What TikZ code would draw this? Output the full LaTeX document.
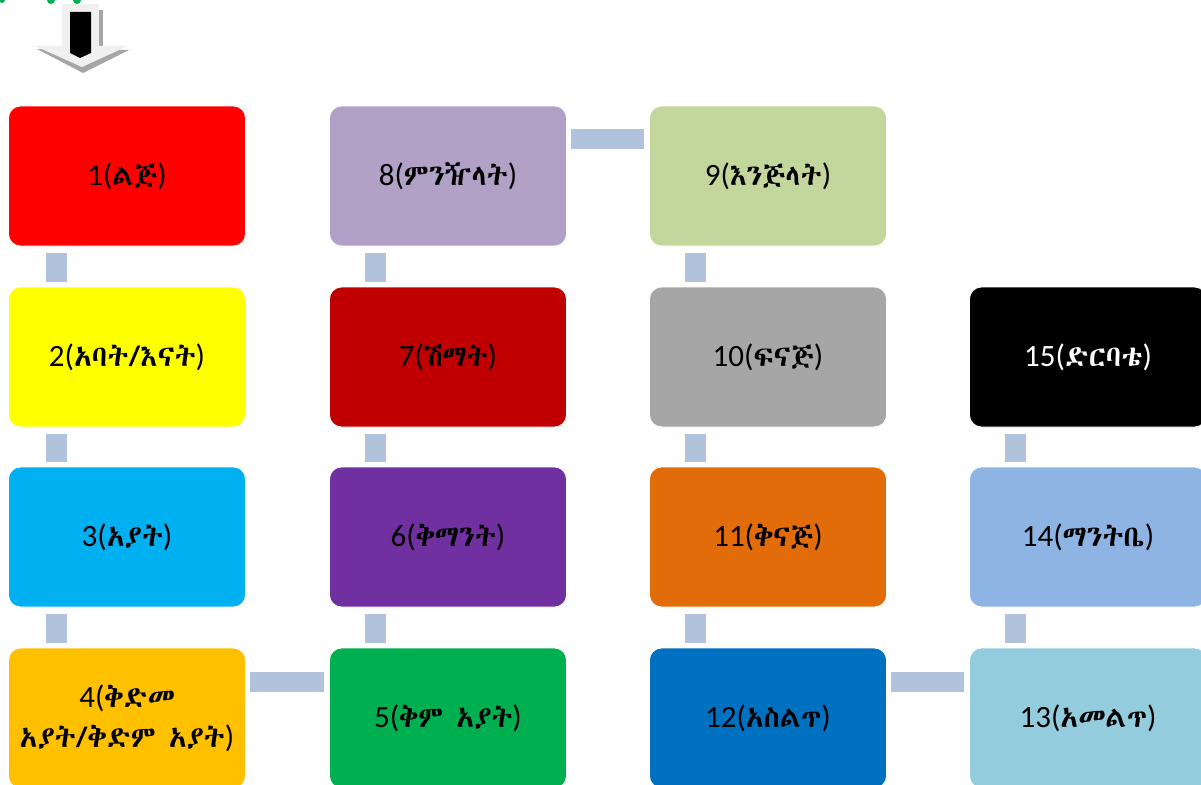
\documentclass[tikz,border=0pt]{standalone}
\usepackage{fontspec}
\setmainfont{Carlito}
\IfFontExistsTF{Abyssinica SIL}{\newfontfamily\eth[Scale=0.94]{Abyssinica SIL}}{%
 \IfFontExistsTF{FreeSerif}{\newfontfamily\eth[Scale=0.94]{FreeSerif}}{%
  \IfFontExistsTF{FreeSans}{\newfontfamily\eth[Scale=0.94]{FreeSans}}{\newfontfamily\eth{Noto Sans}}}}
\newcommand{\am}[1]{{\eth #1}}
\definecolor{cA}{HTML}{FF0000}
\definecolor{cB}{HTML}{FFFF00}
\definecolor{cC}{HTML}{00B0F0}
\definecolor{cD}{HTML}{FFC000}
\definecolor{cE}{HTML}{00B050}
\definecolor{cF}{HTML}{7030A0}
\definecolor{cG}{HTML}{C00000}
\definecolor{cH}{HTML}{B2A1C7}
\definecolor{cI}{HTML}{C3D69B}
\definecolor{cJ}{HTML}{A6A6A6}
\definecolor{cK}{HTML}{E36C0A}
\definecolor{cL}{HTML}{0070C0}
\definecolor{cM}{HTML}{93CDDD}
\definecolor{cN}{HTML}{8EB4E3}
\definecolor{cO}{HTML}{000000}
\definecolor{connc}{HTML}{B0C2DC}
\definecolor{arrlight}{HTML}{F0F0F0}
\definecolor{arrshadow}{HTML}{A6A6A6}
\begin{document}
\begin{tikzpicture}[x=1pt,y=-1pt,
  box/.style={rectangle, rounded corners=12pt, minimum width=237pt, minimum height=140pt,
    draw=white, line width=0.8pt, align=center, text=black,
    font=\fontsize{31}{40}\selectfont, inner sep=0pt},
  vconn/.style={connc, line width=21pt},
  hconn/.style={connc, line width=20pt}]
\useasboundingbox (0,0) rectangle (1201,784);
\clip (0,0) rectangle (1201,784);

% top-left fragments and arrow icon
\fill[cE] (2,0) ellipse (3 and 3);
\fill[cE] (51,0) ellipse (4 and 4);
\fill[cE] (77,0) ellipse (4 and 4);
\fill[arrshadow] (99,10) rectangle (103,46);
\fill[arrshadow] (37,49) -- (129,50) -- (83,73) -- cycle;
\fill[arrlight] (62,4) rectangle (99,46);
\fill[arrlight] (35,46) -- (128,46) -- (82,67) -- cycle;
\fill[black] (70,12) -- (91,12) -- (91,53) -- (80,58) -- (70,53) -- cycle;

% boxes
\node[box, fill=cA] (b1) at (127,176) {1(\am{ልጅ})};
\node[box, fill=cB] (b2) at (127,357) {2(\am{አባት/እናት})};
\node[box, fill=cC] (b3) at (127,537) {3(\am{አያት})};
\node[box, fill=cD] (b4) at (127,718) {4(\am{ቅድመ}\\\am{አያት/ቅድም አያት})};
\node[box, fill=cE] (b5) at (448,718) {5(\am{ቅም አያት})};
\node[box, fill=cF] (b6) at (448,537) {6(\am{ቅማንት})};
\node[box, fill=cG] (b7) at (448,357) {7(\am{ሽማት})};
\node[box, fill=cH] (b8) at (448,176) {8(\am{ምንዥላት})};
\node[box, fill=cI] (b9) at (768,176) {9(\am{እንጅላት})};
\node[box, fill=cJ] (b10) at (768,357) {10(\am{ፍናጅ})};
\node[box, fill=cK] (b11) at (768,537) {11(\am{ቅናጅ})};
\node[box, fill=cL] (b12) at (768,718) {12(\am{አስልጥ})};
\node[box, fill=cM] (b13) at (1088,718) {13(\am{አመልጥ})};
\node[box, fill=cN] (b14) at (1088,537) {14(\am{ማንትቤ})};
\node[box, fill=cO, text=white] (b15) at (1088,357) {15(\am{ድርባቴ})};

% connectors
\begin{scope}[shorten <=7pt, shorten >=5pt]
\draw[vconn] ([xshift=48pt]b1.south west) -- ([xshift=48pt]b2.north west);
\draw[vconn] ([xshift=48pt]b2.south west) -- ([xshift=48pt]b3.north west);
\draw[vconn] ([xshift=48pt]b3.south west) -- ([xshift=48pt]b4.north west);
\draw[vconn] ([xshift=46pt]b7.south west) -- ([xshift=46pt]b6.north west);
\draw[vconn] ([xshift=46pt]b8.south west) -- ([xshift=46pt]b7.north west);
\draw[vconn] ([xshift=46pt]b6.south west) -- ([xshift=46pt]b5.north west);
\draw[vconn] ([xshift=46pt]b9.south west) -- ([xshift=46pt]b10.north west);
\draw[vconn] ([xshift=46pt]b10.south west) -- ([xshift=46pt]b11.north west);
\draw[vconn] ([xshift=46pt]b11.south west) -- ([xshift=46pt]b12.north west);
\draw[vconn] ([xshift=46pt]b15.south west) -- ([xshift=46pt]b14.north west);
\draw[vconn] ([xshift=46pt]b14.south west) -- ([xshift=46pt]b13.north west);
\end{scope}
\begin{scope}[shorten <=4pt, shorten >=5pt]
\draw[hconn] ([yshift=-34pt]b4.north east) -- ([yshift=-34pt]b5.north west);
\draw[hconn] ([yshift=-33pt]b8.north east) -- ([yshift=-33pt]b9.north west);
\draw[hconn] ([yshift=-34pt]b12.north east) -- ([yshift=-34pt]b13.north west);
\end{scope}
\end{tikzpicture}
\end{document}
